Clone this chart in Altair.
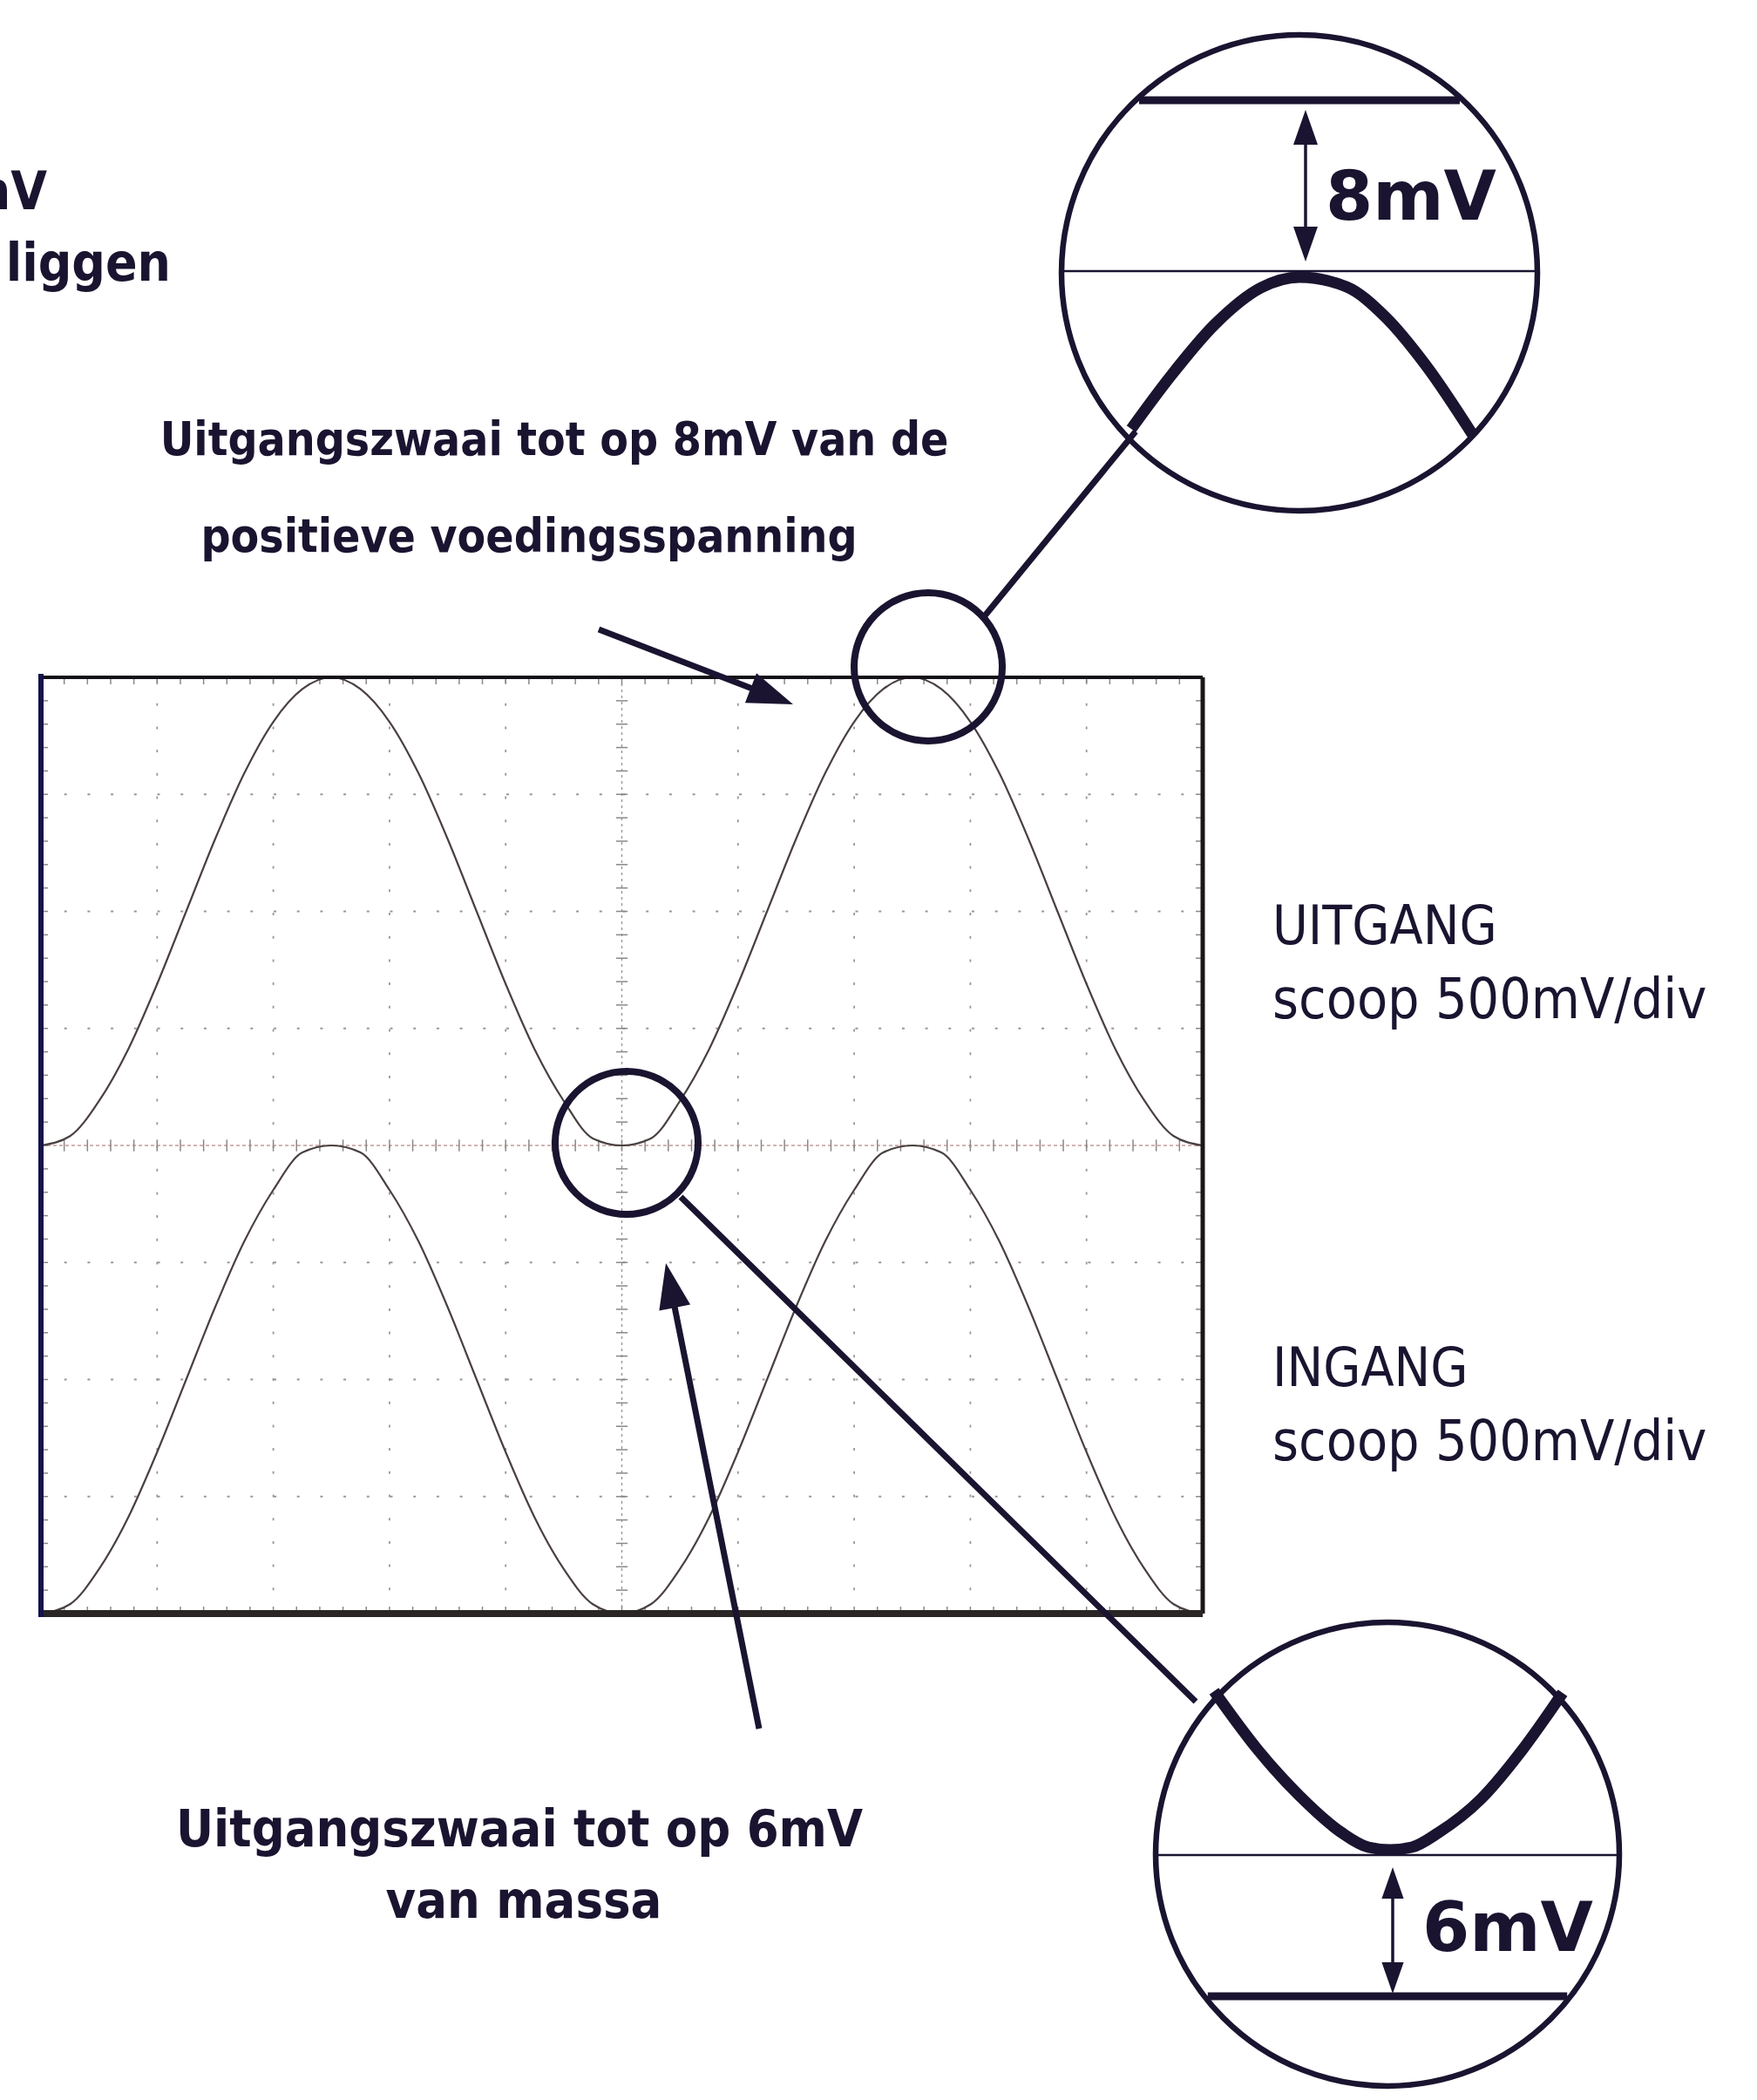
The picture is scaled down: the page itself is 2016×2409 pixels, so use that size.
import math
import altair as alt
import pandas as pd

# ---------------------------------------------------------------------------
# Oscilloscope traces, read in screen divisions (10 x 8 grid, centre = 0 V line)
# ---------------------------------------------------------------------------
t_div = [0.0, 0.25, 0.5, 0.75, 1.0, 1.25, 1.5, 1.75, 2.0, 2.25, 2.5,
         2.75, 3.0, 3.25, 3.5, 3.75, 4.0, 4.25, 4.5, 4.75, 5.0,
         5.25, 5.5, 5.75, 6.0, 6.25, 6.5, 6.75, 7.0, 7.25, 7.5,
         7.75, 8.0, 8.25, 8.5, 8.75, 9.0, 9.25, 9.5, 9.75, 10.0]

# output (UITGANG), upper half of the screen
uitgang = [0.00, 0.08, 0.38, 0.82, 1.38, 2.00, 2.62, 3.18, 3.62, 3.90, 4.00,
           3.90, 3.62, 3.18, 2.62, 2.00, 1.38, 0.82, 0.38, 0.06, 0.00,
           0.06, 0.38, 0.82, 1.38, 2.00, 2.62, 3.18, 3.62, 3.90, 4.00,
           3.90, 3.62, 3.18, 2.62, 2.00, 1.38, 0.82, 0.38, 0.08, 0.00]

# input (INGANG), lower half of the screen
ingang = [-4.00, -3.92, -3.62, -3.18, -2.62, -2.00, -1.38, -0.82, -0.38, -0.06, 0.00,
          -0.06, -0.38, -0.82, -1.38, -2.00, -2.62, -3.18, -3.62, -3.92, -4.00,
          -3.92, -3.62, -3.18, -2.62, -2.00, -1.38, -0.82, -0.38, -0.06, 0.00,
          -0.06, -0.38, -0.82, -1.38, -2.00, -2.62, -3.18, -3.62, -3.92, -4.00]

# magnified views: offsets (px) of the thick trace from its extreme point
top_zoom_dx = [-193, -149, -97, -44, 0, 54, 98, 145, 199]
top_zoom_dy = [174, 115, 54, 12, 0, 11, 45, 101, 181]
bot_zoom_dx = [-202, -152, -104, -56, -25, 0, 25, 56, 104, 152, 198]
bot_zoom_dy = [-182, -115, -62, -20, -3, 0, -3, -20, -58, -115, -180]

# ---------------------------------------------------------------------------
# page geometry (pixels) and conversion to screen-division units
# ---------------------------------------------------------------------------
W, H = 2016, 2409
FX0, FX1, FY0, FY1 = 47, 1380, 777, 1851
SX = (FX1 - FX0) / 10.0
SY = (FY1 - FY0) / 8.0
CY = (FY0 + FY1) / 2.0


def ux(px):
    return (px - FX0) / SX


def uy(py):
    return (CY - py) / SY


XS = alt.Scale(domain=[ux(0), ux(W)], nice=False, zero=False)
YS = alt.Scale(domain=[uy(H), uy(0)], nice=False, zero=False)

INK = "#1a1430"
TRACE = "#4a4040"
GRID = "#9c9696"
NARROW = "'Liberation Sans Narrow', 'DejaVu Sans Condensed', Roboto, sans-serif"


def X(f="x"):
    return alt.X(f, type="quantitative", scale=XS, axis=None)


def Y(f="y"):
    return alt.Y(f, type="quantitative", scale=YS, axis=None)


def rules(rows, color, width, dash=None, cap="butt"):
    df = pd.DataFrame(rows, columns=["x", "y", "x2", "y2"])
    kw = dict(color=color, strokeWidth=width, strokeCap=cap)
    if dash:
        kw["strokeDash"] = dash
    return alt.Chart(df).mark_rule(**kw).encode(
        x=X(), y=Y(), x2="x2:Q", y2="y2:Q")


def px_rules(rows, color, width, cap="butt"):
    return rules([(ux(a), uy(b), ux(c), uy(d)) for a, b, c, d in rows],
                 color, width, cap=cap)


layers = []

# ---- graticule -----------------------------------------------------------
grid_rows = [(d, -4, d, 4) for d in range(1, 10) if d != 5]
grid_rows += [(0, v, 10, v) for v in range(-3, 4) if v != 0]
layers.append(rules(grid_rows, GRID, 1.8, dash=[3, 23.7]))

layers.append(rules([(0, 0, 10, 0)], "#c49a9a", 1.4, dash=[4, 3]))
layers.append(rules([(5, -4, 5, 4)], GRID, 1.4, dash=[3, 4]))

minor = [i * 0.2 for i in range(1, 50)]
minor_v = [i * 0.2 for i in range(-19, 20)]
tick_rows = [(m, -0.05, m, 0.05) for m in minor]
tick_rows += [(5 - 0.05, m, 5 + 0.05, m) for m in minor_v]
tick_rows += [(m, 4, m, 3.94) for m in minor]
tick_rows += [(m, -4, m, -3.94) for m in minor]
tick_rows += [(0, m, 0.06, m) for m in minor_v]
tick_rows += [(10, m, 9.94, m) for m in minor_v]
layers.append(rules(tick_rows, "#8d8787", 1.5))

# ---- traces ----------------------------------------------------------------
traces = pd.DataFrame({
    "x": t_div * 2,
    "y": uitgang + ingang,
    "kanaal": ["UITGANG"] * len(t_div) + ["INGANG"] * len(t_div),
})
layers.append(
    alt.Chart(traces).mark_line(color=TRACE, strokeWidth=2.2, interpolate="monotone")
    .encode(x=X(), y=Y(), detail="kanaal:N"))

# ---- screen frame ------------------------------------------------------------
layers.append(rules([(0, 4, 10, 4)], "#141018", 4))
layers.append(rules([(10, 4, 10, -4)], "#1c1418", 5))
layers.append(rules([(0, -4, 10, -4)], "#2a2626", 8))
layers.append(rules([(0, 4.03, 0, -4.03)], "#17124a", 6))

# ---- circles -------------------------------------------------------------------
circles = [
    # centre px x, centre px y, radius px, stroke
    (1065, 765, 85, 8),
    (719, 1311, 82, 8),
    (1491, 313, 273, 6.5),
    (1592, 2127, 266, 6.5),
]
for cx, cy, r, sw in circles:
    df = pd.DataFrame({"x": [ux(cx)], "y": [uy(cy)], "s": [(2 * r) ** 2]})
    layers.append(
        alt.Chart(df).mark_point(shape="circle", filled=False, color=INK,
                                 strokeWidth=sw, opacity=1)
        .encode(x=X(), y=Y(), size=alt.Size("s:Q", scale=None)))

# connectors between the spots and their magnified views
layers.append(px_rules([(1127, 710, 1303, 495), (781, 1373, 1372, 1952)], INK, 7))


# ---- arrows -----------------------------------------------------------------------
HEAD = "M0,-1 L0.7,1 L-0.7,1 Z"


def arrow(tail, tip, width, head_len):
    dx, dy = tip[0] - tail[0], tip[1] - tail[1]
    L = math.hypot(dx, dy)
    ex, ey = dx / L, dy / L
    r = head_len / 2.0
    ang = math.degrees(math.atan2(dx, -dy)) % 360
    hx, hy = tip[0] - r * ex, tip[1] - r * ey
    shaft = px_rules([(tail[0], tail[1], tip[0] - 1.5 * r * ex, tip[1] - 1.5 * r * ey)],
                     INK, width)
    head = alt.Chart(pd.DataFrame({"x": [ux(hx)], "y": [uy(hy)], "a": [ang],
                                   "s": [(2 * r) ** 2]})).mark_point(
        shape=HEAD, filled=True, color=INK, opacity=1, strokeWidth=0).encode(
        x=X(), y=Y(), angle=alt.Angle("a:Q", scale=None),
        size=alt.Size("s:Q", scale=None))
    return [shaft, head]


layers += arrow((687, 722), (910, 808), 7, 52)
layers += arrow((871, 1983), (764, 1449), 7, 52)

# double-headed measuring arrows inside the magnified views
layers += arrow((1498, 213), (1498, 126), 3.5, 40)
layers += arrow((1498, 213), (1498, 300), 3.5, 40)
layers += arrow((1598, 2214), (1598, 2142), 3.5, 36)
layers += arrow((1598, 2214), (1598, 2287), 3.5, 36)


# ---- magnified views ------------------------------------------------------------
def chord(cx, cy, r, y, inset=0):
    h = math.sqrt(max(r * r - (y - cy) ** 2, 0)) - inset
    return (cx - h, y, cx + h, y)


layers.append(px_rules([chord(1491, 313, 273, 115, 4)], INK, 9))
layers.append(px_rules([chord(1491, 313, 273, 311, 2)], INK, 2.5))
layers.append(px_rules([chord(1592, 2127, 266, 2128, 2)], INK, 2.5))
layers.append(px_rules([chord(1592, 2127, 266, 2290, 4)], INK, 9))

zoom_curves = pd.DataFrame({
    "x": [ux(1491 + d) for d in top_zoom_dx] + [ux(1595 + d) for d in bot_zoom_dx],
    "y": [uy(318 + d) for d in top_zoom_dy] + [uy(2122 + d) for d in bot_zoom_dy],
    "k": ["top"] * len(top_zoom_dx) + ["bottom"] * len(bot_zoom_dx),
})
layers.append(
    alt.Chart(zoom_curves).mark_line(color=INK, strokeWidth=13, interpolate="monotone",
                                     strokeCap="butt")
    .encode(x=X(), y=Y(), detail="k:N"))

# ---- texts ---------------------------------------------------------------------
texts = [
    # text, px x, px baseline, align, size, font, weight
    ("8mV", 54, 240, "right", 60, NARROW, "bold"),
    ("te liggen", 196, 322, "right", 60, NARROW, "bold"),
    ("Uitgangszwaai tot op 8mV van de", 636, 522, "center", 53, NARROW, "bold"),
    ("positieve voedingsspanning", 607, 633, "center", 53, NARROW, "bold"),
    ("UITGANG", 1460, 1083, "left", 62, NARROW, "normal"),
    ("scoop 500mV/div", 1460, 1168, "left", 64, NARROW, "normal"),
    ("INGANG", 1460, 1590, "left", 62, NARROW, "normal"),
    ("scoop 500mV/div", 1460, 1675, "left", 64, NARROW, "normal"),
    ("Uitgangszwaai tot op 6mV", 596, 2118, "center", 59, NARROW, "bold"),
    ("van massa", 601, 2200, "center", 59, NARROW, "bold"),
    ("8mV", 1521, 252, "left", 78, "DejaVu Sans", "bold"),
    ("6mV", 1632, 2238, "left", 78, "DejaVu Sans", "bold"),
]
for t, px, py, al, fs, font, fw in texts:
    df = pd.DataFrame({"x": [ux(px)], "y": [uy(py)], "t": [t]})
    layers.append(
        alt.Chart(df).mark_text(align=al, baseline="alphabetic", fontSize=fs, font=font,
                                fontWeight=fw, color=INK, clip=True)
        .encode(x=X(), y=Y(), text="t:N"))

chart = alt.layer(*layers).properties(
    width=W, height=H, padding=0,
    autosize=alt.AutoSizeParams(type="none"),
    background="white",
).configure_view(stroke=None)

chart.save("out.html", embed_options={"renderer": "svg", "actions": False})
